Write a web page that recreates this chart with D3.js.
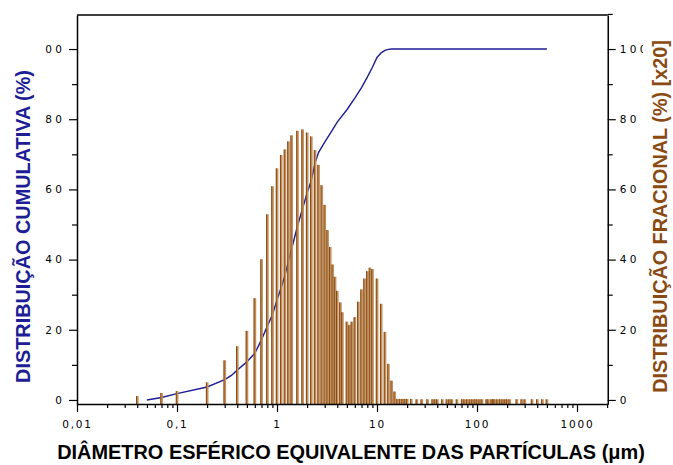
<!DOCTYPE html>
<html>
<head>
<meta charset="utf-8">
<script src="https://cdn.jsdelivr.net/npm/d3@7"></script>
<style>
  body { margin: 0; background: #fff; }
  svg { display: block; }
</style>
</head>
<body>
<svg id="chart" width="673" height="465"></svg>
<script>
// Fractional distribution per size class (µm, % x20)
const fracSizes = [0.04, 0.07, 0.1, 0.2, 0.3, 0.4, 0.5, 0.6, 0.7, 0.8, 0.9, 1.0, 1.1, 1.2, 1.3, 1.4,
  1.6, 1.8, 2.0, 2.2, 2.4, 2.6, 2.8, 3.0, 3.2, 3.4, 3.6, 3.8, 4.0, 4.3, 4.5, 5.0, 5.3, 5.6, 6.0,
  6.5, 7.0, 7.5, 8.0, 8.5, 9.0, 10, 11, 12, 13, 14, 15,
  16, 17, 18, 19, 20, 22, 25, 28, 32, 36, 38, 40, 45, 50, 53, 56, 63, 71, 75, 80, 85, 90, 95,
  100, 106, 112, 125, 130, 140, 145, 150, 160, 170, 180, 190, 200, 212, 250, 280, 300, 355, 400, 450, 500];
const fracValues = [1.1, 2.0, 2.5, 5.0, 11.3, 15.3, 19.7, 29.0, 40.1, 52.9, 60.9, 66.0, 69.8, 71.4, 73.7, 75.4,
  76.7, 77.1, 76.2, 75.1, 71.2, 67.0, 61.2, 55.6, 48.4, 43.6, 38.6, 35.1, 31.1, 27.8, 25.0, 22.3, 21.4, 22.3, 23.6,
  28.0, 31.5, 34.6, 36.7, 37.7, 37.3, 34.6, 27.4, 19.4, 10.3, 5.5, 2.4,
  0.3, 0.3, 0.3, 0.3, 0.3, 0.3, 0.2, 0.2, 0.2, 0.2, 0.2, 0.2, 0.2, 0.2, 0.2, 0.2, 0.2, 0.2, 0.2, 0.2, 0.2, 0.2, 0.2,
  0.2, 0.2, 0.2, 0.2, 0.2, 0.2, 0.2, 0.2, 0.2, 0.2, 0.2, 0.2, 0.2, 0.2, 0.2, 0.2, 0.2, 0.2, 0.2, 0.2, 0.2];

// Cumulative distribution (µm, %)
const cumSizes = [0.05, 0.07, 0.1, 0.2, 0.3, 0.35, 0.4, 0.5, 0.6, 0.7, 0.8, 0.9, 1.0, 1.1, 1.2, 1.3, 1.4,
  1.6, 1.8, 2.0, 2.2, 2.4, 2.6, 3.0, 3.5, 4.0, 5.0, 6.0, 7.0, 8.0, 9.0, 10, 11, 12, 13, 14, 500];
const cumValues = [0, 0.7, 1.8, 3.7, 5.8, 7.0, 8.5, 10.9, 13.3, 17.2, 21.0, 24.3, 28.5, 32.0, 35.5, 39.5, 43.0,
  49.5, 54.5, 59.0, 62.5, 67.5, 70.5, 73.5, 76.5, 79.2, 82.7, 86.0, 89.0, 92.0, 94.8, 97.6, 98.9, 99.6, 99.9, 100, 100];

const xTickValues = [0.01, 0.1, 1, 10, 100, 1000];
const xTickLabels = ["0,01", "0,1", "1", "10", "100", "1000"];
const yTickValues = [0, 20, 40, 60, 80, 100];
const yTickLabels = ["0", "20", "40", "60", "80", "100"];
const yMinorLeft = [10, 30, 50, 70, 90];
const yMinorRight = [10, 30, 50, 70, 90, 110];

const svg = d3.select("#chart");
const plotLeft = 77, plotRight = 607.75, plotTop = 15, plotBottom = 404;

const x = d3.scaleLog().domain([0.01, 2030]).range([plotLeft, plotRight]);
const y = d3.scaleLinear().domain([-1.15, 109.7]).range([plotBottom, plotTop]);

const xMinor = [];
for (let e = -2; e <= 3; e++) for (let k = 2; k <= 9; k++) {
  const v = k * Math.pow(10, e);
  if (v <= 2030) xMinor.push(v);
}

const tickFont = "DejaVu Sans, Verdana, sans-serif";
const titleFont = "Liberation Sans, Arial, sans-serif";
const blue = "#1d1d96";
const brown = "#8a4a12";
const ySpacing = 3.3, xSpacing = 1.8;

// clip paths (in each tick's local coordinates) that trim the widest labels against the axis titles
const defs = svg.append("defs");
defs.append("clipPath").attr("id", "clipL").append("rect")
  .attr("x", -33).attr("y", -20).attr("width", 33).attr("height", 40);
defs.append("clipPath").attr("id", "clipR").append("rect")
  .attr("x", 0).attr("y", -20).attr("width", 35.3).attr("height", 40);

// cumulative curve (drawn under the bars)
const line = d3.line().x((d, i) => x(cumSizes[i])).y(d => y(d));
svg.append("path")
  .datum(cumValues)
  .attr("d", line)
  .attr("fill", "none")
  .attr("stroke", blue)
  .attr("stroke-width", 1.4);

// fractional bars
const bars = svg.append("g");
fracSizes.forEach((s, i) => {
  const cx = x(s);
  const y0 = y.range()[0];
  const y1 = y(fracValues[i]);
  bars.append("rect")
    .attr("x", cx - 1.2).attr("width", 2.6)
    .attr("y", y1).attr("height", y0 - y1)
    .attr("fill", "#c0905e");
  bars.append("rect")
    .attr("x", cx - 1.2).attr("width", 1)
    .attr("y", y1).attr("height", y0 - y1)
    .attr("fill", brown);
});

// top frame line
svg.append("line")
  .attr("x1", plotLeft).attr("x2", plotRight).attr("y1", plotTop).attr("y2", plotTop)
  .attr("stroke", "#000").attr("stroke-width", 1.4);

// bottom axis
const xAxis = d3.axisBottom(x).tickValues(xTickValues)
  .tickFormat((d, i) => xTickLabels[i]).tickSize(8).tickSizeOuter(0).tickPadding(7);
const gx = svg.append("g").attr("transform", `translate(0,${plotBottom})`).call(xAxis);
svg.append("g").attr("transform", `translate(0,${plotBottom})`)
  .call(d3.axisBottom(x).tickValues(xMinor).tickFormat("").tickSize(4).tickSizeOuter(0))
  .select(".domain").remove();

// left axis
const yAxisL = d3.axisLeft(y).tickValues(yTickValues)
  .tickFormat((d, i) => yTickLabels[i]).tickSize(8).tickSizeOuter(0).tickPadding(7);
const gl = svg.append("g").attr("transform", `translate(${plotLeft},0)`).call(yAxisL);
svg.append("g").attr("transform", `translate(${plotLeft},0)`)
  .call(d3.axisLeft(y).tickValues(yMinorLeft).tickFormat("").tickSize(5).tickSizeOuter(0))
  .select(".domain").remove();

// right axis
const yAxisR = d3.axisRight(y).tickValues(yTickValues)
  .tickFormat((d, i) => yTickLabels[i]).tickSize(8).tickSizeOuter(0).tickPadding(4);
const gr = svg.append("g").attr("transform", `translate(${plotRight},0)`).call(yAxisR);
svg.append("g").attr("transform", `translate(${plotRight},0)`)
  .call(d3.axisRight(y).tickValues(yMinorRight).tickFormat("").tickSize(5).tickSizeOuter(0))
  .select(".domain").remove();

svg.selectAll(".domain").attr("stroke", "#000").attr("stroke-width", 1.5);
svg.selectAll(".tick line").attr("stroke", "#000").attr("stroke-width", 1.2);
svg.selectAll(".tick text")
  .attr("font-family", tickFont).attr("font-size", 10.5).attr("fill", "#000");
gl.selectAll(".tick text").attr("letter-spacing", ySpacing + "px")
  .attr("clip-path", "url(#clipL)").attr("dx", ySpacing + "px");
gr.selectAll(".tick text").attr("letter-spacing", ySpacing + "px")
  .attr("clip-path", "url(#clipR)");
gx.selectAll(".tick text").attr("letter-spacing", xSpacing + "px")
  .attr("dx", "0px").attr("dy", "0.85em");

// axis titles, each squeezed horizontally to its span
function fittedTitle(txt, size, color, span, cx, cy, rotate) {
  const t = svg.append("text")
    .attr("text-anchor", "middle")
    .attr("font-family", titleFont)
    .attr("font-weight", "bold").attr("font-size", size)
    .attr("fill", color)
    .text(txt);
  const w = t.node().getComputedTextLength();
  const k = span / w;
  t.attr("transform", `translate(${cx},${cy}) rotate(${rotate}) scale(${k},1)`);
  return t;
}

fittedTitle("DISTRIBUIÇÃO CUMULATIVA (%)", 20, blue, 313, 30, 226.5, -90);
fittedTitle("DISTRIBUIÇÃO FRACIONAL (%) [x20]", 20, brown, 353, 667, 216.5, -90);
fittedTitle("DIÂMETRO ESFÉRICO EQUIVALENTE DAS PARTÍCULAS (μm)", 21, "#000", 588, 351, 458.5, 0);
</script>
</body>
</html>
